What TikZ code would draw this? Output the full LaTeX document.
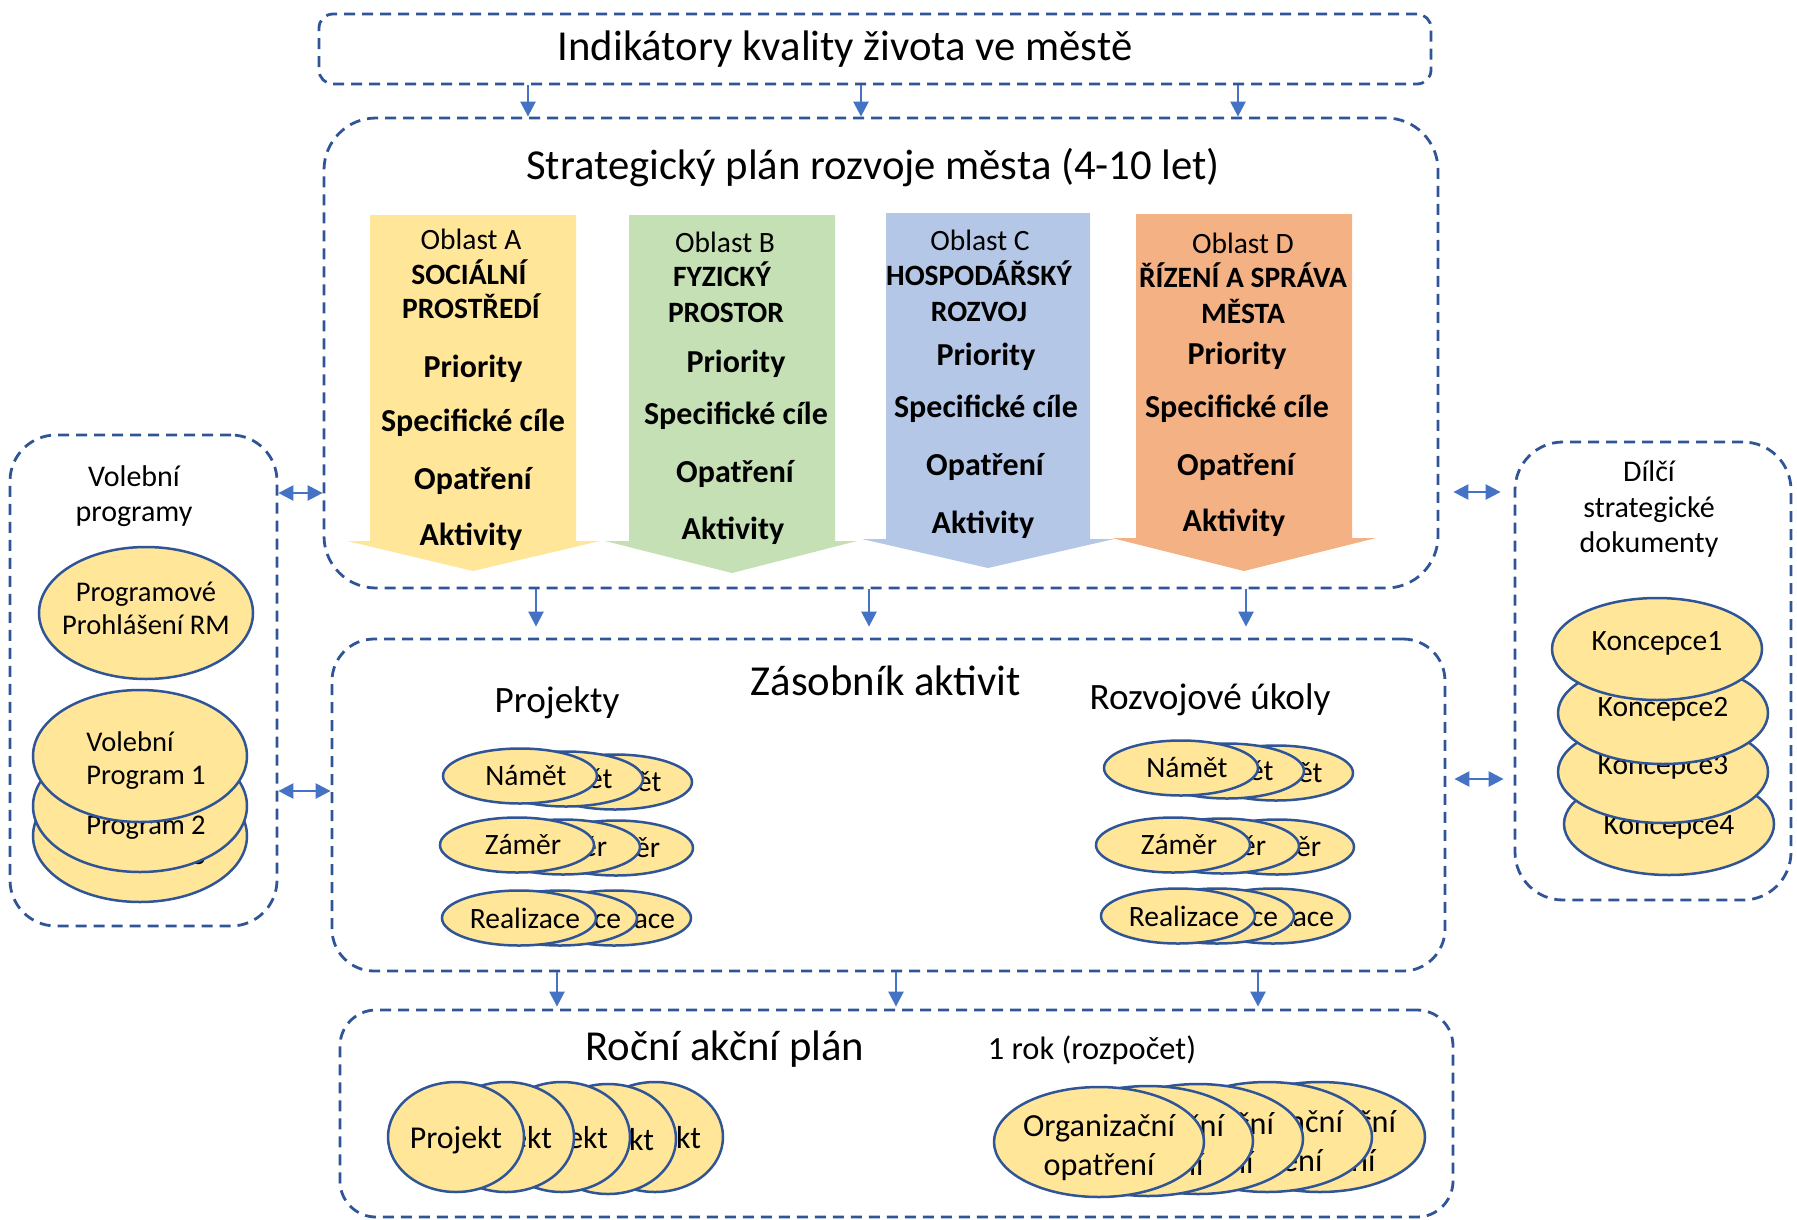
\documentclass[tikz,border=0pt]{standalone}
\usepackage{fontspec}
\setmainfont{Carlito}
\usetikzlibrary{shapes.geometric,arrows.meta}
\definecolor{frameblue}{HTML}{2F5597}
\definecolor{arrblue}{HTML}{4472C4}
\definecolor{ellfill}{HTML}{FFE699}
\definecolor{colA}{HTML}{FFE699}
\definecolor{colB}{HTML}{C5E0B4}
\definecolor{colC}{HTML}{B4C7E7}
\definecolor{colD}{HTML}{F4B183}
\begin{document}
\begin{tikzpicture}[x=1pt,y=-1pt,
  frame/.style={draw=frameblue, line width=2.8pt, dash pattern=on 11pt off 7pt, inner sep=0pt},
  ttl/.style={font=\fontsize{42.7}{50}\selectfont, inner sep=0pt},
  sub/.style={font=\fontsize{37.2}{44}\selectfont, inner sep=0pt},
  rok/.style={font=\fontsize{32.4}{38}\selectfont, inner sep=0pt},
  lbl/.style={font=\fontsize{30}{35.5}\selectfont, align=center, inner sep=0pt},
  hd/.style={font=\fontsize{29.5}{32}\selectfont, anchor=base, inner sep=0pt},
  hdb/.style={font=\fontsize{29.5}{32}\selectfont\bfseries, anchor=base, inner sep=0pt},
  bd/.style={font=\fontsize{32}{38}\selectfont\bfseries, anchor=base, inner sep=0pt},
  ell/.style={ellipse, draw=frameblue, fill=ellfill, line width=2.5pt, inner sep=0pt},
  small/.style={ell, inner xsep=-12pt, minimum width=154pt, minimum height=55pt, font=\fontsize{29.5}{33}\selectfont},
  vp/.style={ell, minimum width=214pt, minimum height=132pt},
  vtxt/.style={font=\fontsize{28.5}{33}\selectfont, inner sep=0pt},
  kon/.style={ell, inner xsep=-6pt, minimum width=210pt, minimum height=102pt, text height=19pt, text depth=16pt, font=\fontsize{29.5}{34}\selectfont},
  prj/.style={ell, minimum width=136pt, minimum height=110pt, text height=28pt, text depth=6pt, font=\fontsize{31.8}{36}\selectfont},
  org/.style={ell, minimum width=210pt, minimum height=110pt},
  otxt/.style={font=\fontsize{32.2}{39}\selectfont, align=center, inner sep=0pt},
  arr/.style={draw=arrblue, line width=2.5pt, -{Triangle[length=15pt,width=15pt]}},
  darr/.style={draw=arrblue, line width=2.5pt, {Triangle[length=15pt,width=15pt]}-{Triangle[length=15pt,width=15pt]}}
]
\useasboundingbox (0,0) rectangle (1797,1219);

% frames
\node[frame, rounded corners=14pt, minimum width=1112pt, minimum height=70pt] (ind) at (875,49) {};
\node[frame, rounded corners=52pt, minimum width=1114pt, minimum height=470pt] (strat) at (881,353) {};
\node[frame, rounded corners=42pt, minimum width=1113pt, minimum height=332pt] (zas) at (888.5,805) {};
\node[frame, rounded corners=36pt, minimum width=1113pt, minimum height=207pt] (rocni) at (896.5,1113.5) {};
\node[frame, rounded corners=46pt, minimum width=267pt, minimum height=491pt] (vol) at (143.5,680.5) {};
\node[frame, rounded corners=48pt, minimum width=276pt, minimum height=458pt] (dil) at (1653,671) {};

% titles
\node[ttl] (indt) at (845,49) {Indikátory kvality života ve městě};
\node[ttl] (stratt) at (873,168) {Strategický plán rozvoje města (4-10 let)};
\node[ttl] (zast) at (886,681) {Zásobník aktivit};
\node[sub] (projt) at (557,703) {Projekty};
\node[sub] (rozt) at (1210,700) {Rozvojové úkoly};
\node[ttl] (roct) at (725,1049) {Roční akční plán};
\node[rok] (rokt) at (1092,1050) {1 rok (rozpočet)};
\node[lbl] (volt) at (134,496) {Volební\\programy};
\node[lbl] (dilt) at (1649,509) {Dílčí\\strategické\\dokumenty};

% columns
\fill[colA] (370,215) -- (576,215) -- (576,541) -- (600,541) -- (473,571) -- (347,541) -- (370,541) -- cycle;
\fill[colB] (629,215) -- (835,215) -- (835,541) -- (857,541) -- (732,573) -- (605,541) -- (629,541) -- cycle;
\fill[colC] (886,213) -- (1090,213) -- (1090,539) -- (1114,539) -- (988,568) -- (862,539) -- (886,539) -- cycle;
\fill[colD] (1136,214) -- (1352,214) -- (1352,538) -- (1376,538) -- (1244,571) -- (1112,538) -- (1136,538) -- cycle;

\node[hd] (a1) at (471,249) {Oblast A};
\node[hdb] (a2) at (469,284) {SOCIÁLNÍ};
\node[hdb] (a3) at (471,318) {PROSTŘEDÍ};
\node[bd] (a4) at (473,377) {Priority};
\node[bd] (a5) at (473,431) {Specifické cíle};
\node[bd] (a6) at (473,489) {Opatření};
\node[bd] (a7) at (471,545) {Aktivity};

\node[hd] (b1) at (725,252) {Oblast B};
\node[hdb] (b2) at (722,286) {FYZICKÝ};
\node[hdb] (b3) at (726,322) {PROSTOR};
\node[bd] (b4) at (736,372) {Priority};
\node[bd] (b5) at (736,424) {Specifické cíle};
\node[bd] (b6) at (735,482) {Opatření};
\node[bd] (b7) at (733,539) {Aktivity};

\node[hd] (c1) at (980,250) {Oblast C};
\node[hdb] (c2) at (979,285) {HOSPODÁŘSKÝ};
\node[hdb] (c3) at (979,321) {ROZVOJ};
\node[bd] (c4) at (986,365) {Priority};
\node[bd] (c5) at (986,417) {Specifické cíle};
\node[bd] (c6) at (985,475) {Opatření};
\node[bd] (c7) at (983,533) {Aktivity};

\node[hd] (d1) at (1243,253) {Oblast D};
\node[hdb] (d2) at (1243,287) {ŘÍZENÍ A SPRÁVA};
\node[hdb] (d3) at (1243,323) {MĚSTA};
\node[bd] (d4) at (1237,364) {Priority};
\node[bd] (d5) at (1237,417) {Specifické cíle};
\node[bd] (d6) at (1236,475) {Opatření};
\node[bd] (d7) at (1234,531) {Aktivity};

% Volebni programy
\node[vp] (prm) at (146,613) {};
\node[vtxt, align=center] (prmt) at (146,608) {Programové\\Prohlášení RM};
\node[vp] (vp3) at (140,836) {};
\node[vtxt, align=left] (vp3t) at (146,841) {Volební\\Program 3};
\node[vp] (vp2) at (140,806) {};
\node[vtxt, align=left] (vp2t) at (146,811) {Volební\\Program 2};
\node[vp] (vp1) at (140,756) {};
\node[vtxt, align=left] (vp1t) at (146,761) {Volební\\Program 1};

% Koncepce
\node[kon, text height=27pt, text depth=6pt] (k4) at (1669,824) {Koncepce4};
\node[kon, text depth=14pt] (k3) at (1663,772) {Koncepce3};
\node[kon, text depth=12pt] (k2) at (1663,713) {Koncepce2};
\node[kon] (k1) at (1657,649) {Koncepce1};

% Projekty stacks
\node[small] (pn3) at (615,782) {\hspace*{12pt}Námět};
\node[small] (pn2) at (566,779) {\hspace*{12pt}Námět};
\node[small] (pn1) at (520,776) {\hspace*{12pt}Námět};
\node[small] (pz3) at (616,848) {\hspace*{12pt}Záměr};
\node[small] (pz2) at (563,847) {\hspace*{12pt}Záměr};
\node[small] (pz1) at (517,845) {\hspace*{12pt}Záměr};
\node[small] (pr3) at (614,918) {\hspace*{12pt}Realizace};
\node[small] (pr2) at (560,918) {\hspace*{12pt}Realizace};
\node[small] (pr1) at (519,918) {\hspace*{12pt}Realizace};

% Rozvojove ukoly stacks
\node[small] (rn3) at (1276,773) {\hspace*{12pt}Námět};
\node[small] (rn2) at (1227,771) {\hspace*{12pt}Námět};
\node[small] (rn1) at (1181,768) {\hspace*{12pt}Námět};
\node[small] (rz3) at (1277,847) {\hspace*{12pt}Záměr};
\node[small] (rz2) at (1222,846) {\hspace*{12pt}Záměr};
\node[small] (rz1) at (1173,845) {\hspace*{12pt}Záměr};
\node[small] (rr3) at (1273,916) {\hspace*{12pt}Realizace};
\node[small] (rr2) at (1217,916) {\hspace*{12pt}Realizace};
\node[small] (rr1) at (1178,916) {\hspace*{12pt}Realizace};

% Rocni akcni plan stacks
\node[prj] (pj5) at (655,1137) {Projekt};
\node[prj] (pj4) at (608,1139) {Projekt};
\node[prj] (pj3) at (562,1137) {Projekt};
\node[prj] (pj2) at (506,1137) {Projekt};
\node[prj] (pj1) at (456,1137) {Projekt};

\node[org] (og5) at (1320,1137) {};
\node[otxt] (og5t) at (1320,1144) {Organizační\\opatření};
\node[org] (og4) at (1267,1137) {};
\node[otxt] (og4t) at (1267,1144) {Organizační\\opatření};
\node[org] (og3) at (1198,1139) {};
\node[otxt] (og3t) at (1198,1146) {Organizační\\opatření};
\node[org] (og2) at (1148,1141) {};
\node[otxt] (og2t) at (1148,1148) {Organizační\\opatření};
\node[org] (og1) at (1099,1142) {};
\node[otxt] (og1t) at (1099,1148) {Organizační\\opatření};

% arrows
\coordinate (t1) at (528,0); \coordinate (t2) at (861,0); \coordinate (t3) at (1238,0);
\coordinate (m1) at (536,0); \coordinate (m2) at (869,0); \coordinate (m3) at (1246,0);
\coordinate (b1x) at (557,0); \coordinate (b2x) at (896,0); \coordinate (b3x) at (1258,0);
\coordinate (ly1) at (0,493); \coordinate (ly2) at (0,791);
\coordinate (ry1) at (0,492); \coordinate (ry2) at (0,779);

\draw[arr] (ind.south -| t1) -- (strat.north -| t1);
\draw[arr] (ind.south -| t2) -- (strat.north -| t2);
\draw[arr] (ind.south -| t3) -- (strat.north -| t3);

\draw[arr, shorten >=11pt] (strat.south -| m1) -- (zas.north -| m1);
\draw[arr, shorten >=11pt] (strat.south -| m2) -- (zas.north -| m2);
\draw[arr, shorten >=11pt] (strat.south -| m3) -- (zas.north -| m3);

\draw[arr, shorten >=2pt] (zas.south -| b1x) -- (rocni.north -| b1x);
\draw[arr, shorten >=2pt] (zas.south -| b2x) -- (rocni.north -| b2x);
\draw[arr, shorten >=2pt] (zas.south -| b3x) -- (rocni.north -| b3x);

\draw[darr] (vol.east |- ly1) -- (strat.west |- ly1);
\draw[darr] (vol.east |- ly2) -- (zas.west |- ly2);
\draw[darr, shorten <=14pt, shorten >=13pt] (strat.east |- ry1) -- (dil.west |- ry1);
\draw[darr, shorten <=8pt, shorten >=10pt] (zas.east |- ry2) -- (dil.west |- ry2);
\end{tikzpicture}
\end{document}
